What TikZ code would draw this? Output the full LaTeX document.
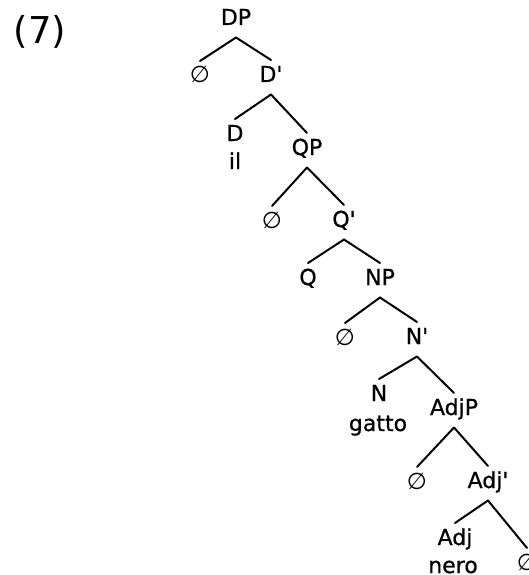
\documentclass[tikz,border=0pt]{standalone}
\usepackage{fontspec}
\setmainfont{DejaVu Sans}[Ligatures=TeXOff, FakeBold=0.7]
\newfontfamily\lightfont{DejaVu Sans}
\usetikzlibrary{calc}
% branch from the foot of a parent label to the head of a child label
\newcommand\treeedge[2]{\draw[branch] ($(#1.base)+(0,12.5)$) -- ($(#2.base)+(0,-22)$);}
\begin{document}
\begin{tikzpicture}[x=1pt,y=-1pt,
  lab/.style={anchor=base, inner sep=0pt, font=\fontsize{22}{26}\selectfont},
  nul/.style={anchor=base, inner sep=0pt, font=\lightfont\fontsize{23}{28}\selectfont},
  branch/.style={line width=2pt, line cap=round}]
\useasboundingbox (0,0) rectangle (528,575);
\clip (0,0) rectangle (528,575);

\node[anchor=base, inner sep=0pt, font=\lightfont\fontsize{37}{42}\selectfont] (ex) at (40,44) {(7)};

\node[lab] (dp)   at (236,25)  {DP};
\node[nul] (e1)   at (200,83)  {∅};
\node[lab] (d1)   at (271,82)  {D'};
\node[lab] (d0)   at (235,141) {D};
\node[lab] (il)   at (235,169) {il};
\node[lab] (qp)   at (307,155) {QP};
\node[nul] (e2)   at (272,228) {∅};
\node[lab] (q1)   at (344,227) {Q'};
\node[lab] (q0)   at (308,285) {Q};
\node[lab] (np)   at (380,285) {NP};
\node[nul] (e3)   at (345,345) {∅};
\node[lab] (n1)   at (417,344) {N'};
\node[lab] (n0)   at (379,401) {N};
\node[lab] (gat)  at (378,431) {gatto};
\node[lab] (ajp)  at (454,415) {AdjP};
\node[nul] (e4)   at (417,489) {∅};
\node[lab] (aj1)  at (488,488) {Adj'};
\node[lab] (aj0)  at (455,545) {Adj};
\node[lab] (nero) at (453,573) {nero};
\node[nul] (e5)   at (527,570) {∅};

\treeedge{dp}{e1}
\treeedge{dp}{d1}
\treeedge{d1}{d0}
\treeedge{d1}{qp}
\treeedge{qp}{e2}
\treeedge{qp}{q1}
\treeedge{q1}{q0}
\treeedge{q1}{np}
\treeedge{np}{e3}
\treeedge{np}{n1}
\treeedge{n1}{n0}
\treeedge{n1}{ajp}
\treeedge{ajp}{e4}
\treeedge{ajp}{aj1}
\treeedge{aj1}{aj0}
\treeedge{aj1}{e5}
\end{tikzpicture}
\end{document}
